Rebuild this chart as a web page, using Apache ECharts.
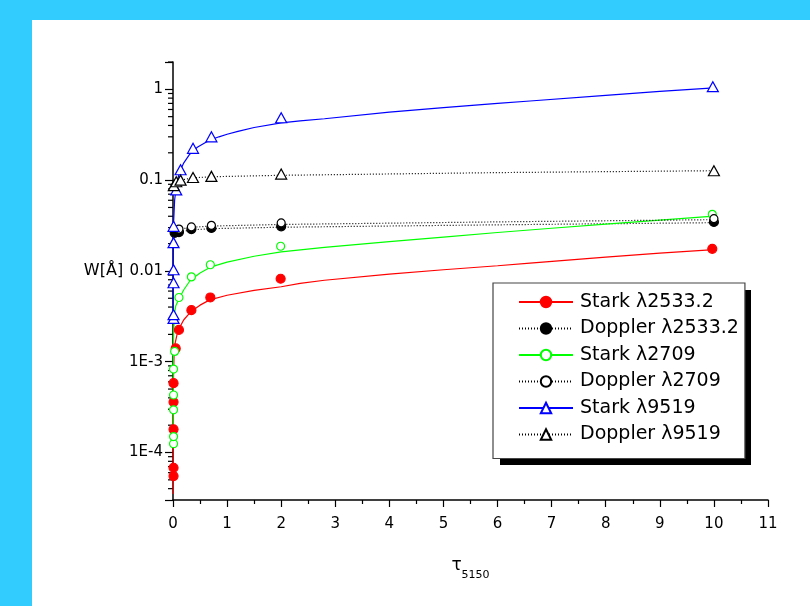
<!DOCTYPE html>
<html>
<head>
<meta charset="utf-8">
<script src="https://cdn.jsdelivr.net/npm/echarts@6/dist/echarts.min.js"></script>
<style>
html, body { margin: 0; padding: 0; background: #33ccff; overflow: hidden; }
#main { position: absolute; left: 32px; top: 20px; width: 778px; height: 586px; background: #fff; }
</style>
</head>
<body>
<div id="main"></div>
<script>
// 图例名称
var names = ['Stark λ2533.2', 'Doppler λ2533.2', 'Stark λ2709', 'Doppler λ2709', 'Stark λ9519', 'Doppler λ9519'];

// 测量点 [tau, W]
var starkPts2533 = [[0.01,5.5e-5],[0.01,6.8e-5],[0.01,1.8e-4],[0.01,3.6e-4],[0.01,5.8e-4],[0.05,1.4e-3],[0.11,2.24e-3],[0.34,3.7e-3],[0.69,5.1e-3],[1.99,8.2e-3],[9.97,0.0175]];
var dopplerPts2533 = [[0.03,0.0263],[0.11,0.0268],[0.34,0.0289],[0.71,0.0297],[2,0.031],[10,0.0346]];
var starkPts2709 = [[0.01,1.25e-4],[0.01,1.5e-4],[0.01,2.95e-4],[0.01,4.3e-4],[0.01,8.3e-4],[0.03,1.3e-3],[0.11,5.1e-3],[0.34,8.6e-3],[0.69,0.0117],[1.99,0.0187],[9.97,0.042]];
var dopplerPts2709 = [[0.11,0.0289],[0.34,0.0305],[0.71,0.0318],[2,0.0338],[10,0.0376]];
var starkPts9519 = [[0.01,3e-3],[0.01,3.3e-3],[0.01,7.4e-3],[0.01,0.0103],[0.01,0.0205],[0.01,0.031],[0.06,0.078],[0.14,0.13],[0.37,0.224],[0.71,0.3],[2,0.486],[9.98,1.07]];
var dopplerPts9519 = [[0.015,0.087],[0.06,0.096],[0.14,0.1],[0.37,0.107],[0.71,0.11],[2,0.1165],[10,0.127]];

// 拟合曲线 [tau, W]
var starkFit2533 = [[0.001,3.5e-5],[0.003,1.2e-4],[0.006,3.5e-4],[0.01,7e-4],[0.02,1.2e-3],[0.04,1.6e-3],[0.09,2.2e-3],[0.2,2.9e-3],[0.34,3.6e-3],[0.5,4.2e-3],[0.68,4.8e-3],[1,5.4e-3],[1.5,6.1e-3],[2,6.7e-3],[2.35,7.3e-3],[2.8,7.9e-3],[4,9.2e-3],[5,0.0103],[6,0.0114],[6.6,0.0122],[8,0.0142],[9,0.0157],[10,0.0172]];
var dopplerFit2533 = [[0.02,0.026],[0.11,0.0268],[0.34,0.0283],[0.7,0.0292],[2,0.0303],[6,0.0322],[10,0.034]];
var starkFit2709 = [[0.001,1.2e-4],[0.003,4e-4],[0.006,1e-3],[0.012,2e-3],[0.025,3.3e-3],[0.05,4.1e-3],[0.11,4.9e-3],[0.2,6.2e-3],[0.32,7.9e-3],[0.5,9.5e-3],[0.69,0.011],[1,0.0125],[1.5,0.0145],[2,0.0162],[2.8,0.0182],[4,0.021],[5,0.0236],[6,0.0265],[7,0.0295],[8,0.0328],[9,0.0363],[10,0.0402]];
var dopplerFit2709 = [[0.05,0.028],[0.11,0.0288],[0.34,0.0302],[0.7,0.0312],[2,0.0325],[6,0.0347],[10,0.0367]];
var starkFit9519 = [[0.001,3e-3],[0.003,8e-3],[0.006,0.018],[0.012,0.035],[0.03,0.06],[0.06,0.085],[0.1,0.11],[0.14,0.13],[0.2,0.155],[0.3,0.19],[0.37,0.21],[0.45,0.23],[0.6,0.26],[0.71,0.28],[0.85,0.3],[1,0.32],[1.2,0.345],[1.5,0.38],[2,0.428],[2.35,0.45],[2.8,0.474],[4,0.56],[5,0.63],[6,0.7],[6.6,0.744],[8,0.86],[9,0.95],[10,1.036]];
var dopplerFit9519 = [[0.02,0.088],[0.06,0.095],[0.14,0.1],[0.37,0.106],[0.71,0.109],[2,0.113],[6,0.121],[10,0.127]];

// y轴刻度标签
var yTickValues = [1, 0.1, 0.01, 0.001, 0.0001];
var yTickLabels = ['1', '0.1', '0.01', '1E-3', '1E-4'];
// 对数轴次刻度
var minorDecades = [1e-5, 1e-4, 1e-3, 0.01, 0.1, 1];
var minorMult = [2, 3, 4, 5, 6, 7, 8, 9];
var yMin = 3e-5, yMax = 2;

var minorTicks = [];
minorDecades.forEach(function (d) {
    minorMult.forEach(function (m) {
        var v = d * m;
        if (v > yMin * 1.01 && v <= yMax * 1.001) minorTicks.push([0, v]);
    });
});

var FONT = 'DejaVu Sans';

function fitLine(name, data, color, dotted, symbol, fill) {
    return {
        name: name,
        type: 'line',
        data: data,
        symbol: symbol,
        showSymbol: false,
        silent: true,
        z: 2,
        lineStyle: { color: color, width: 1.2, type: dotted ? [1, 2] : 'solid' },
        itemStyle: { color: fill, borderColor: color, borderWidth: 1.2 }
    };
}
function marks(name, data, color, symbol, fill, size) {
    return {
        name: name,
        type: 'scatter',
        data: data,
        symbol: symbol,
        symbolSize: size,
        silent: true,
        z: 3,
        itemStyle: { color: fill, borderColor: color, borderWidth: 1.2, opacity: 1 }
    };
}

var myChart = echarts.init(document.getElementById('main'));
var option = {
    animation: false,
    backgroundColor: '#fff',
    grid: { left: 141, top: 42, right: 42, bottom: 106 },
    // 图例阴影
    graphic: [{
        type: 'rect',
        left: 468,
        top: 270,
        z: 9,
        shape: { width: 251, height: 175 },
        style: { fill: '#000' },
        silent: true
    }],
    legend: {
        orient: 'vertical',
        left: 461,
        top: 263,
        z: 10,
        data: names,
        selectedMode: false,
        itemWidth: 54,
        itemHeight: 13,
        itemGap: 6.5,
        padding: [9, 6, 14, 25],
        backgroundColor: '#fff',
        borderColor: '#444',
        borderWidth: 1.2,
        textStyle: { fontFamily: FONT, fontSize: 19, color: '#000', lineHeight: 20, padding: [0, 0, 0, 2] }
    },
    xAxis: {
        type: 'value',
        min: 0,
        max: 11,
        interval: 1,
        name: '{t|τ}{s|5150}',
        nameLocation: 'middle',
        nameGap: 57,
        nameTextStyle: {
            rich: {
                t: { fontFamily: FONT, fontSize: 17, color: '#000', lineHeight: 24, verticalAlign: 'top' },
                s: { fontFamily: FONT, fontSize: 11, color: '#000', lineHeight: 12, verticalAlign: 'bottom' }
            }
        },
        axisLine: { onZero: false, lineStyle: { color: '#000', width: 1.5 } },
        axisTick: { length: 7, lineStyle: { color: '#000', width: 1.2 } },
        minorTick: { show: true, splitNumber: 2, length: 4, lineStyle: { color: '#000', width: 1.2 } },
        splitLine: { show: false },
        axisLabel: { margin: 17, fontFamily: FONT, fontSize: 15, color: '#000' }
    },
    yAxis: {
        type: 'log',
        min: yMin,
        max: yMax,
        name: 'W[Å]',
        nameLocation: 'middle',
        nameRotate: 0,
        nameGap: 49,
        nameTextStyle: { fontFamily: FONT, fontSize: 16, color: '#000', verticalAlign: 'bottom', padding: [0, 0, 2, 0] },
        axisLine: { onZero: false, lineStyle: { color: '#000', width: 1.5 } },
        axisTick: { length: 8, lineStyle: { color: '#000', width: 1.2 } },
        splitLine: { show: false },
        axisLabel: {
            margin: 10,
            fontFamily: FONT,
            fontSize: 15,
            color: '#000',
            formatter: function (v) {
                for (var i = 0; i < yTickValues.length; i++) {
                    if (Math.abs(Math.log10(v) - Math.log10(yTickValues[i])) < 1e-6) return yTickLabels[i];
                }
                return '';
            }
        }
    },
    series: [
        fitLine(names[0], starkFit2533, '#ff0000', false, 'circle', '#ff0000'),
        fitLine(names[1], dopplerFit2533, '#000', true, 'circle', '#000'),
        fitLine(names[2], starkFit2709, '#00ff00', false, 'circle', '#fff'),
        fitLine(names[3], dopplerFit2709, '#000', true, 'circle', '#fff'),
        fitLine(names[4], starkFit9519, '#0000ff', false, 'triangle', '#fff'),
        fitLine(names[5], dopplerFit9519, '#000', true, 'triangle', '#fff'),
        marks(names[0], starkPts2533, '#ff0000', 'circle', '#ff0000', 9),
        marks(names[1], dopplerPts2533, '#000', 'circle', '#000', 9),
        marks(names[2], starkPts2709, '#00ff00', 'circle', '#fff', 8),
        marks(names[3], dopplerPts2709, '#000', 'circle', '#fff', 8),
        marks(names[4], starkPts9519, '#0000ff', 'triangle', '#fff', [11, 10]),
        marks(names[5], dopplerPts9519, '#000', 'triangle', '#fff', [11, 10]),
        {
            type: 'custom',
            silent: true,
            clip: false,
            z: 1,
            data: minorTicks,
            renderItem: function (params, api) {
                var p = api.coord([0, api.value(1)]);
                return {
                    type: 'line',
                    shape: { x1: p[0] - 5, y1: p[1], x2: p[0], y2: p[1] },
                    style: { stroke: '#000', lineWidth: 1.2 }
                };
            }
        }
    ]
};
myChart.setOption(option);
</script>
</body>
</html>
